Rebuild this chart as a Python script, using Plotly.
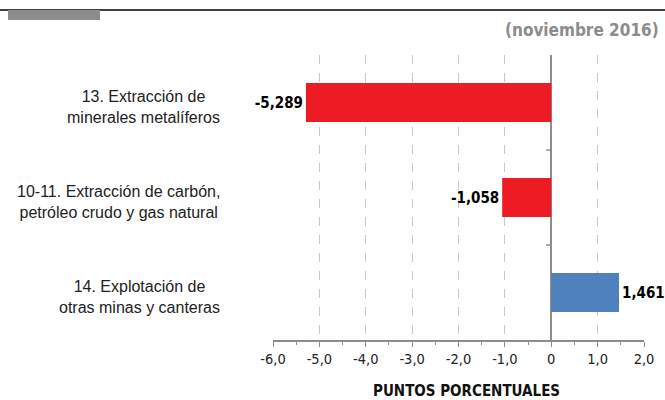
import plotly.graph_objects as go

categories = [
    "13. Extracción de<br>minerales metalíferos",
    "10-11. Extracción de carbón,<br>petróleo crudo y gas natural",
    "14. Explotación de<br>otras minas y canteras",
]
values = [-5.289, -1.058, 1.461]
bar_colors = ["#ED1C24", "#ED1C24", "#4F81BD"]
tick_vals = [-6, -5, -4, -3, -2, -1, 0, 1, 2]
tick_text = ["-6,0", "-5,0", "-4,0", "-3,0", "-2,0", "-1,0", "0", "1,0", "2,0"]
value_labels = [f"{v:.3f}".replace(".", ",") for v in values]

NARROW = "Liberation Sans Narrow, DejaVu Sans Condensed, sans-serif"
ARIAL = "Liberation Sans, Arial, sans-serif"

fig = go.Figure()
fig.add_trace(go.Bar(
    x=values, y=categories, orientation="h",
    marker=dict(color=bar_colors, line=dict(width=0)),
    width=0.41,
    text=value_labels, textposition="outside",
    textfont=dict(family=NARROW, size=15, color="black", weight="bold"),
    cliponaxis=False,
    hoverinfo="skip",
))

fig.update_layout(
    width=665, height=400,
    margin=dict(l=273, r=21, t=55, b=60),
    paper_bgcolor="white", plot_bgcolor="white",
    showlegend=False,
    xaxis=dict(
        range=[-6, 2], tickvals=tick_vals, ticktext=tick_text,
        showgrid=True, gridcolor="#c8c8c8", griddash="dash", gridwidth=1,
        zeroline=True, zerolinecolor="#8c8c8c", zerolinewidth=2,
        showline=True, linecolor="#8c8c8c", linewidth=1.5,
        ticks="outside", ticklen=5, tickcolor="#8c8c8c",
        minor=dict(dtick=0.5, ticks="outside", ticklen=3, tickcolor="#8c8c8c", showgrid=False),
        tickfont=dict(family=NARROW, size=14.5, color="#222"),
        fixedrange=True,
    ),
    yaxis=dict(
        categoryorder="array", categoryarray=categories,
        autorange="reversed", showticklabels=False,
        showgrid=False, zeroline=False, showline=False, fixedrange=True,
    ),
)

# y-axis category labels (centered multi-line)
for c in categories:
    fig.add_annotation(
        x=0, xref="paper", y=c, yref="y", text=c, showarrow=False,
        xanchor="right", xshift=-51, yshift=-4, align="center",
        font=dict(family=ARIAL, size=16, color="#222"),
    )

# small ticks on zero line at category boundaries
for b in [0.5, 1.5]:
    fig.add_shape(type="line", xref="x", yref="y", xsizemode="pixel", xanchor=0,
                  x0=-5, x1=0, y0=b, y1=b, line=dict(color="#8c8c8c", width=1.5))

# axis title
fig.add_annotation(
    x=0.5, xref="paper", y=-0.178, yref="paper", yanchor="middle",
    text="<b>PUNTOS PORCENTUALES</b>", showarrow=False,
    font=dict(family=NARROW, size=15, color="#111"), xshift=8,
)

# header decorations
fig.add_shape(type="line", xref="paper", yref="paper", x0=-273/371, x1=(665-273)/371,
              y0=1 + 45/285, y1=1 + 45/285, line=dict(color="black", width=1.5))
fig.add_shape(type="rect", xref="paper", yref="paper", x0=(8-273)/371, x1=(100-273)/371,
              y0=1 + 35/285, y1=1 + 45/285, fillcolor="#8c8c8c", line=dict(width=0))
fig.add_annotation(
    x=1, xref="paper", xanchor="right", xshift=17, y=1 + 25/285, yref="paper", yanchor="middle",
    text="<b>(noviembre 2016)</b>", showarrow=False,
    font=dict(family=NARROW, size=17, color="#8c8c8c"),
)

fig.write_html("out.html", config={"displayModeBar": False},
               post_script="document.body.style.margin='0';")
